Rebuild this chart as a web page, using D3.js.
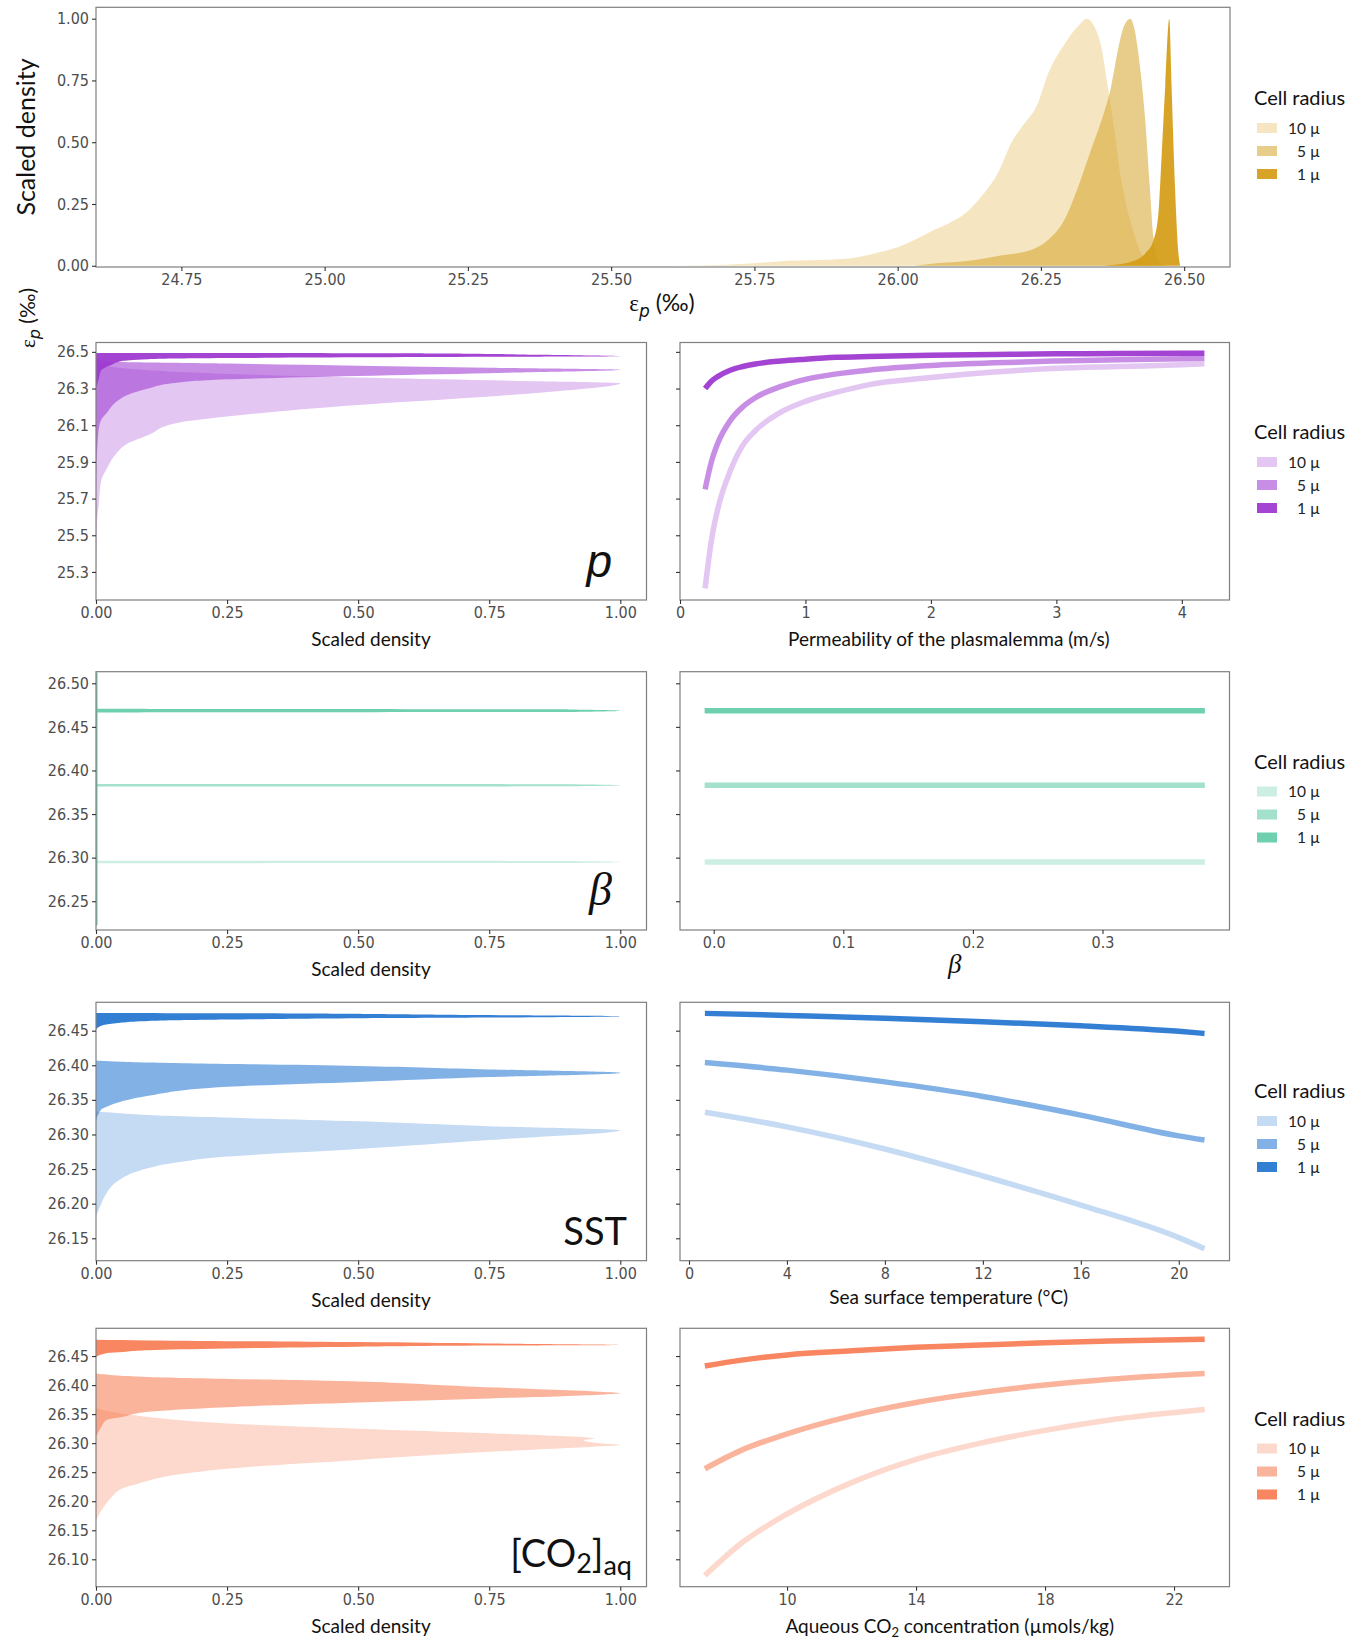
<!DOCTYPE html>
<html><head><meta charset="utf-8">
<script src="https://cdn.jsdelivr.net/npm/d3@7"></script>
<style>
body{margin:0;background:#fff}
svg{display:block}
</style></head>
<body><svg id="c" width="1364" height="1640"></svg>
<script>
// ---------------- DATA ----------------
const cellRadii = ["10 µ", "5 µ", "1 µ"];

// Top panel: scaled density of εp (‰)  [εp, density]
const topTicksX = [24.75, 25.00, 25.25, 25.50, 25.75, 26.00, 26.25, 26.50];
const topTicksY = [0, 0.25, 0.50, 0.75, 1.00];
const topDens10 = [[25.60,0],[25.70,0.004],[25.75,0.01],[25.81,0.02],[25.88,0.024],[25.93,0.034],[25.96,0.05],[26.00,0.075],[26.03,0.105],[26.059,0.14],[26.088,0.17],[26.117,0.21],[26.146,0.28],[26.175,0.375],[26.199,0.50],[26.216,0.56],[26.245,0.66],[26.263,0.78],[26.292,0.90],[26.315,0.97],[26.33,1.0],[26.345,0.96],[26.356,0.88],[26.365,0.75],[26.375,0.60],[26.39,0.35],[26.41,0.15],[26.425,0.05],[26.443,0]];
const topDens5 = [[26.03,0],[26.059,0.008],[26.117,0.018],[26.175,0.04],[26.234,0.065],[26.263,0.105],[26.292,0.19],[26.315,0.32],[26.339,0.48],[26.356,0.59],[26.373,0.73],[26.385,0.88],[26.395,0.97],[26.406,1.0],[26.414,0.95],[26.42,0.86],[26.432,0.59],[26.44,0.32],[26.446,0.12],[26.455,0.02],[26.467,0]];
const topDens1 = [[26.36,0],[26.379,0.004],[26.41,0.018],[26.432,0.05],[26.446,0.10],[26.455,0.21],[26.461,0.46],[26.467,0.73],[26.474,1.0],[26.478,0.73],[26.484,0.32],[26.49,0.05],[26.493,0]];

const densTicks = [0, 0.25, 0.50, 0.75, 1.00];

// Row p : permeability of the plasmalemma
const pTicksY = [25.3, 25.5, 25.7, 25.9, 26.1, 26.3, 26.5];
const pTicksX = [0, 1, 2, 3, 4];
const pDens10 = [[25.21,0],[25.40,0.001],[25.58,0.002],[25.66,0.005],[25.80,0.01],[25.86,0.02],[25.95,0.04],[26.00,0.06],[26.047,0.10],[26.11,0.15],[26.147,0.25],[26.21,0.50],[26.256,0.75],[26.29,0.90],[26.329,1.0],[26.345,0.75],[26.36,0.50],[26.40,0.10],[26.435,0]];
const pDens5 = [[25.75,0],[25.90,0.001],[26.00,0.003],[26.075,0.005],[26.13,0.01],[26.165,0.02],[26.23,0.04],[26.265,0.06],[26.30,0.10],[26.33,0.15],[26.35,0.25],[26.369,0.50],[26.384,0.75],[26.402,1.0],[26.413,0.75],[26.424,0.50],[26.436,0.25],[26.447,0.02],[26.465,0]];
const pDens1 = [[26.296,0],[26.35,0.005],[26.40,0.01],[26.43,0.03],[26.45,0.05],[26.46,0.10],[26.466,0.25],[26.47,0.50],[26.473,0.75],[26.476,1.0],[26.484,0.85],[26.49,0.70],[26.4932,0.30],[26.494,0]];
const pValues = [0.2, 0.25, 0.3, 0.4, 0.5, 0.6, 0.8, 1.0, 1.25, 1.5, 2.0, 2.5, 3.0, 3.5, 4.0, 4.18];
const pLine10 = [25.21, 25.47, 25.64, 25.85, 25.99, 26.07, 26.17, 26.23, 26.28, 26.32, 26.36, 26.39, 26.41, 26.42, 26.43, 26.435];
const pLine5  = [25.75, 25.90, 26.00, 26.125, 26.20, 26.25, 26.31, 26.35, 26.38, 26.40, 26.425, 26.44, 26.45, 26.457, 26.462, 26.465];
const pLine1  = [26.30, 26.34, 26.365, 26.40, 26.42, 26.434, 26.45, 26.46, 26.47, 26.475, 26.482, 26.486, 26.489, 26.491, 26.493, 26.493];

// Row beta
const betaTicksY = [26.25, 26.30, 26.35, 26.40, 26.45, 26.50];
const betaTicksX = [0.0, 0.1, 0.2, 0.3];
const betaDens10 = [[26.2935,0],[26.2938,0.9],[26.295,1.0],[26.2962,0.9],[26.2965,0]];
const betaDens5  = [[26.3815,0],[26.3818,0.9],[26.383,1.0],[26.3842,0.9],[26.3845,0]];
const betaDens1  = [[26.222,0],[26.223,0.003],[26.4665,0.003],[26.4672,0.9],[26.4686,1.0],[26.470,0.9],[26.4707,0.003],[26.512,0.003],[26.513,0]];
const betaValues = [-0.007, 0.1, 0.2, 0.3, 0.379];
const betaLine10 = [26.295, 26.295, 26.295, 26.295, 26.295];
const betaLine5  = [26.383, 26.383, 26.383, 26.383, 26.383];
const betaLine1  = [26.4686, 26.4686, 26.4686, 26.4686, 26.4686];

// Row SST
const sstTicksY = [26.15, 26.20, 26.25, 26.30, 26.35, 26.40, 26.45];
const sstTicksX = [0, 4, 8, 12, 16, 20];
const sstDens10 = [[26.182,0],[26.20,0.01],[26.215,0.02],[26.232,0.04],[26.247,0.08],[26.259,0.15],[26.268,0.25],[26.279,0.50],[26.292,0.75],[26.306,1.0],[26.312,0.75],[26.319,0.50],[26.328,0.10],[26.332,0.02],[26.333,0]];
const sstDens5  = [[26.319,0],[26.336,0.01],[26.34,0.02],[26.348,0.05],[26.356,0.10],[26.369,0.25],[26.376,0.50],[26.383,0.75],[26.389,1.0],[26.394,0.75],[26.399,0.50],[26.404,0.10],[26.407,0]];
const sstDens1  = [[26.451,0],[26.457,0.01],[26.46,0.03],[26.464,0.10],[26.466,0.25],[26.468,0.50],[26.469,0.75],[26.471,1.0],[26.473,0.65],[26.475,0.30],[26.4755,0]];
const sstValues = [0.65, 4, 8, 12, 16, 20, 21.05];
const sstLine10 = [26.332, 26.311, 26.279, 26.240, 26.198, 26.151, 26.135];
const sstLine5  = [26.404, 26.393, 26.376, 26.355, 26.328, 26.298, 26.292];
const sstLine1  = [26.475, 26.472, 26.468, 26.463, 26.457, 26.449, 26.446];

// Row [CO2]aq
const co2TicksY = [26.10, 26.15, 26.20, 26.25, 26.30, 26.35, 26.40, 26.45];
const co2TicksX = [10, 14, 18, 22];
const co2Dens10 = [[26.167,0],[26.184,0.01],[26.207,0.03],[26.222,0.05],[26.23,0.08],[26.245,0.15],[26.256,0.25],[26.271,0.50],[26.285,0.75],[26.295,0.97],[26.297,1.0],[26.30,0.96],[26.305,0.93],[26.308,0.95],[26.317,0.75],[26.325,0.50],[26.334,0.25],[26.345,0.10],[26.36,0]];
const co2Dens5  = [[26.311,0],[26.328,0.01],[26.34,0.02],[26.345,0.05],[26.354,0.10],[26.362,0.25],[26.37,0.50],[26.377,0.75],[26.384,0.97],[26.386,1.0],[26.389,0.95],[26.391,0.90],[26.398,0.70],[26.406,0.50],[26.414,0.10],[26.42,0]];
const co2Dens1  = [[26.448,0],[26.455,0.02],[26.457,0.05],[26.46,0.10],[26.463,0.25],[26.466,0.50],[26.468,0.75],[26.469,1.0],[26.4715,0.75],[26.474,0.50],[26.477,0.10],[26.478,0]];
const co2Values = [7.45, 8.59, 10, 12, 14, 16, 18, 20, 22.95];
const co2Line10 = [26.072, 26.128, 26.178, 26.232, 26.272, 26.30, 26.322, 26.34, 26.358];
const co2Line5  = [26.256, 26.288, 26.316, 26.347, 26.370, 26.387, 26.40, 26.41, 26.42];
const co2Line1  = [26.433, 26.443, 26.452, 26.459, 26.465, 26.469, 26.473, 26.476, 26.479];

// ---------------- STYLE ----------------
const goldCols   = ["rgba(218,165,32,0.28)", "rgba(214,162,40,0.55)", "rgba(212,156,22,0.92)"];
const purpleCols = ["rgba(160,60,210,0.29)", "rgba(160,60,210,0.58)", "rgba(158,58,208,0.95)"];
const tealCols   = ["rgba(102,205,170,0.33)", "rgba(102,205,170,0.6)", "rgba(102,205,170,0.95)"];
const blueCols   = ["rgba(40,120,210,0.27)", "rgba(40,120,210,0.58)", "rgba(40,120,210,0.95)"];
const orangeCols = ["rgba(248,125,85,0.3)", "rgba(248,125,85,0.58)", "rgba(248,125,85,0.93)"];

const TICKFONT = '"Liberation Sans Narrow","DejaVu Sans Condensed","Roboto Condensed",sans-serif';
const TITLEFONT = 'Lato,"Open Sans",sans-serif';

const svg = d3.select("#c");

function border(r){
  svg.append("rect").attr("x",r.x0).attr("y",r.y0).attr("width",r.x1-r.x0).attr("height",r.y1-r.y0)
    .attr("fill","none").attr("stroke","#7f7f7f").attr("stroke-width",1.2);
}
function styleAxis(g, noLabels){
  g.select(".domain").remove();
  g.selectAll(".tick line").attr("stroke","#333").attr("stroke-width",1.1);
  g.selectAll(".tick text").attr("fill","#4d4d4d").style("font-family",TICKFONT)
    .style("font-stretch","condensed").style("font-size","16px");
  if(noLabels) g.selectAll(".tick text").remove();
}
function legend(yc, cols){
  const g = svg.append("g");
  g.append("text").attr("x",1254).attr("y",yc+7).text("Cell radius")
    .style("font-family",TITLEFONT).style("font-size","20px").attr("fill","#111");
  const offs = [30, 53, 76];
  cellRadii.forEach((lab,i)=>{
    g.append("rect").attr("x",1257).attr("y",yc+offs[i]-5).attr("width",20).attr("height",10).attr("fill",cols[i]);
    g.append("text").attr("x",1320).attr("y",yc+offs[i]+5.5).attr("text-anchor","end").text(lab)
      .style("font-family",TITLEFONT).style("font-size","15.5px").attr("fill","#222");
  });
}
function title(x,y,txt,size,opts={}){
  return svg.append("text").attr("x",x).attr("y",y).attr("text-anchor",opts.anchor||"middle")
    .style("font-family",opts.font||TITLEFONT).style("font-size",size+"px")
    .style("font-style",opts.style||"normal").attr("fill","#111").text(txt);
}

// ---------------- TOP PANEL ----------------
{
  const r = {x0:96, x1:1230, y0:7.3, y1:267};
  const x = d3.scaleLinear().domain([24.601, 26.58]).range([r.x0, r.x1]);
  const y = d3.scaleLinear().domain([-0.005, 1.046]).range([r.y1, r.y0]);
  const area = d3.area().x(d=>x(d[0])).y0(y(0)).y1(d=>y(d[1])).curve(d3.curveMonotoneX);
  [topDens10, topDens5, topDens1].forEach((d,i)=>{
    svg.append("path").datum(d).attr("d",area).attr("fill",goldCols[i]);
  });
  border(r);
  styleAxis(svg.append("g").attr("transform",`translate(${r.x0},0)`)
    .call(d3.axisLeft(y).tickValues(topTicksY).tickFormat(d3.format(".2f")).tickSize(4).tickPadding(3)));
  styleAxis(svg.append("g").attr("transform",`translate(0,${r.y1})`)
    .call(d3.axisBottom(x).tickValues(topTicksX).tickFormat(d3.format(".2f")).tickSize(4).tickPadding(3)));
  svg.append("text").attr("transform","translate(35,137) rotate(-90)").attr("text-anchor","middle")
    .style("font-family",TITLEFONT).style("font-size","25px").attr("fill","#111").text("Scaled density");
  const t = svg.append("text").attr("x",662).attr("y",311).attr("text-anchor","middle")
    .style("font-family",TITLEFONT).style("font-size","23px").attr("fill","#111");
  t.append("tspan").text("ε").style("font-family",'"Liberation Serif",serif');
  t.append("tspan").text("p").attr("dy",6).style("font-size","17px").style("font-style","italic").style("font-family",'"DejaVu Sans",sans-serif');
  t.append("tspan").text(" (‰)").attr("dy",-6);
  legend(98, goldCols);
}

// left column y title ε_p (‰)
{
  const t = svg.append("text").attr("transform","translate(35,318) rotate(-90)").attr("text-anchor","middle")
    .style("font-family",TITLEFONT).style("font-size","21px").attr("fill","#111");
  t.append("tspan").text("ε").style("font-family",'"Liberation Serif",serif');
  t.append("tspan").text("p").attr("dy",5).style("font-size","16px").style("font-style","italic").style("font-family",'"DejaVu Sans",sans-serif');
  t.append("tspan").text(" (‰)").attr("dy",-5);
}

// ---------------- ROWS ----------------
const rows = [
  {y0:342.5, y1:600, yDom:[25.147,26.551], yTicks:pTicksY, yFmt:".1f",
   dens:[pDens10,pDens5,pDens1], xDom:[0,4.38], xTicks:pTicksX, xFmt:"d",
   xv:pValues, lines:[pLine10,pLine5,pLine1], cols:purpleCols,
   xTitle:"Permeability of the plasmalemma (m/s)", leg:432, label:"p"},
  {y0:671.7, y1:930, yDom:[26.217,26.5133], yTicks:betaTicksY, yFmt:".2f",
   dens:[betaDens10,betaDens5,betaDens1], xDom:[-0.026,0.398], xTicks:betaTicksX, xFmt:".1f",
   xv:betaValues, lines:[betaLine10,betaLine5,betaLine1], cols:tealCols,
   xTitle:"β", leg:761.5, label:"β"},
  {y0:1002.3, y1:1260.7, yDom:[26.1176,26.491], yTicks:sstTicksY, yFmt:".2f",
   dens:[sstDens10,sstDens5,sstDens1], xDom:[-0.367,22.07], xTicks:sstTicksX, xFmt:"d",
   xv:sstValues, lines:[sstLine10,sstLine5,sstLine1], cols:blueCols,
   xTitle:"Sea surface temperature (°C)", leg:1091, label:"SST"},
  {y0:1328.3, y1:1586.7, yDom:[26.0528,26.4978], yTicks:co2TicksY, yFmt:".2f",
   dens:[co2Dens10,co2Dens5,co2Dens1], xDom:[6.68,23.72], xTicks:co2TicksX, xFmt:"d",
   xv:co2Values, lines:[co2Line10,co2Line5,co2Line1], cols:orangeCols,
   xTitle:"CO2", leg:1418.5, label:"CO2"}
];

rows.forEach((row,ri)=>{
  const L = {x0:96, x1:646.5, y0:row.y0, y1:row.y1};
  const R = {x0:680, x1:1229.5, y0:row.y0, y1:row.y1};
  const y = d3.scaleLinear().domain(row.yDom).range([row.y1,row.y0]);
  const xd = d3.scaleLinear().domain([0,1.05]).range([L.x0,L.x1]);
  const xr = d3.scaleLinear().domain(row.xDom).range([R.x0,R.x1]);

  const area = d3.area().y(d=>y(d[0])).x0(xd(0)).x1(d=>xd(d[1])).curve(d3.curveMonotoneY);
  row.dens.forEach((d,i)=>{
    svg.append("path").datum(d).attr("d",area).attr("fill",row.cols[i]);
  });
  const line = d3.line().x(d=>xr(d[0])).y(d=>y(d[1])).curve(d3.curveMonotoneX);
  row.lines.forEach((vals,i)=>{
    svg.append("path").datum(d3.zip(row.xv, vals)).attr("d",line).attr("fill","none")
      .attr("stroke",row.cols[i]).attr("stroke-width",5.5);
  });
  border(L); border(R);

  styleAxis(svg.append("g").attr("transform",`translate(${L.x0},0)`)
    .call(d3.axisLeft(y).tickValues(row.yTicks).tickFormat(d3.format(row.yFmt)).tickSize(4).tickPadding(3)));
  styleAxis(svg.append("g").attr("transform",`translate(${R.x0},0)`)
    .call(d3.axisLeft(y).tickValues(row.yTicks).tickSize(4)), true);
  styleAxis(svg.append("g").attr("transform",`translate(0,${row.y1})`)
    .call(d3.axisBottom(xd).tickValues(densTicks).tickFormat(d3.format(".2f")).tickSize(4).tickPadding(3)));
  styleAxis(svg.append("g").attr("transform",`translate(0,${row.y1})`)
    .call(d3.axisBottom(xr).tickValues(row.xTicks).tickFormat(d3.format(row.xFmt)).tickSize(4).tickPadding(3)));

  title(371, row.y1+46, "Scaled density", 19);
  const rc = (R.x0+R.x1)/2;
  if(row.xTitle==="β"){
    title(rc, row.y1+43, "β", 27, {font:'"Liberation Serif",serif', style:"italic"});
  } else if(row.xTitle==="CO2"){
    const t = title(rc-5, row.y1+46, "", 19);
    t.append("tspan").text("Aqueous CO");
    t.append("tspan").text("2").attr("dy",4).style("font-size","13px");
    t.append("tspan").text(" concentration (µmols/kg)").attr("dy",-4);
  } else {
    title(rc - 6, row.y1+(ri===0?46:43), row.xTitle, 19);
  }

  if(row.label==="p"){
    title(612, 577, "p", 46, {anchor:"end", font:'"Liberation Sans",Arial,sans-serif', style:"italic"});
  } else if(row.label==="β"){
    title(612, 905, "β", 46, {anchor:"end", font:'"Liberation Serif",serif', style:"italic"});
  } else if(row.label==="SST"){
    title(627, 1245, "SST", 38, {anchor:"end"});
  } else {
    const t = title(632, 1567, "", 38, {anchor:"end"});
    t.append("tspan").text("[CO");
    t.append("tspan").text("2").attr("dy",6).style("font-size","27px");
    t.append("tspan").text("]").attr("dy",-6);
    t.append("tspan").text("aq").attr("dy",8).style("font-size","27px");
  }
  legend(row.leg, row.cols);
});
</script></body></html>
